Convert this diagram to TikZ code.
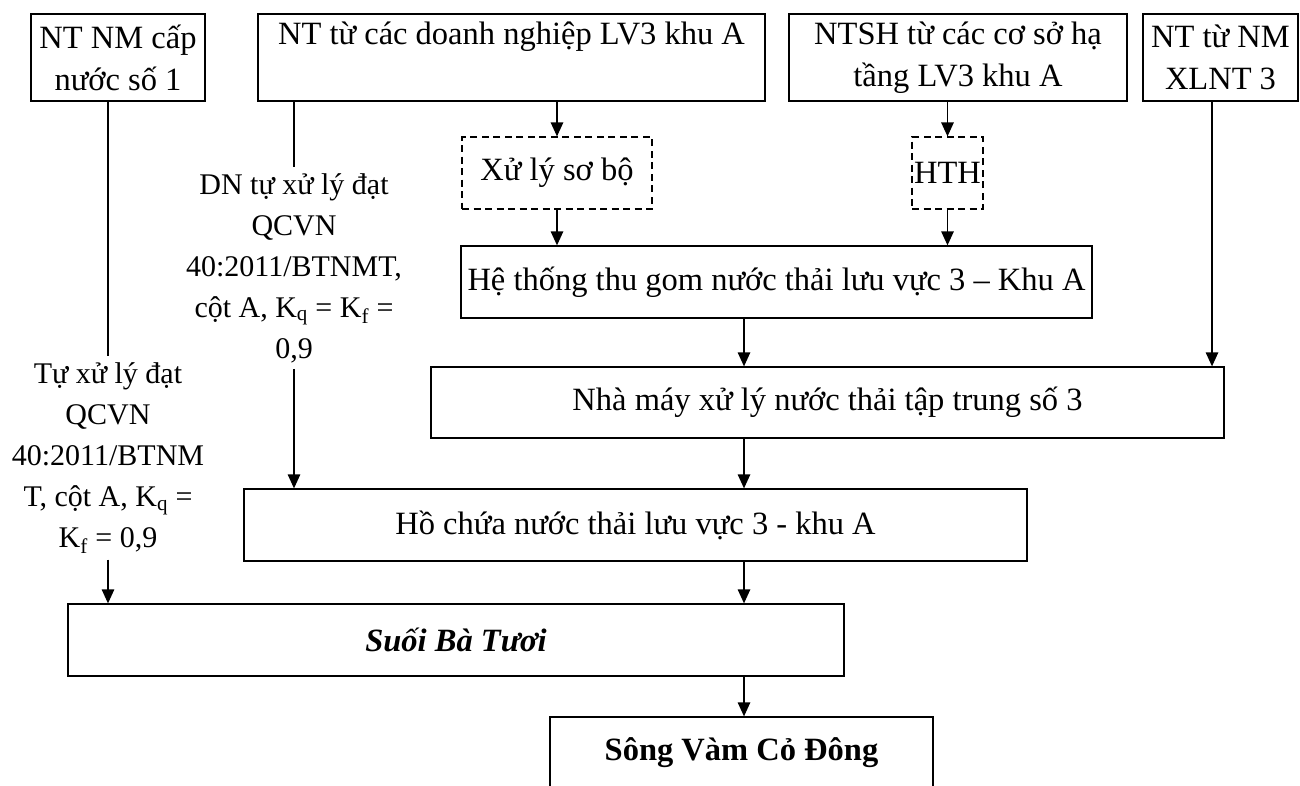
\documentclass[tikz,border=0pt]{standalone}
\usepackage{fontspec}
\setmainfont{Liberation Serif}
\usetikzlibrary{arrows.meta}
\begin{document}
\begin{tikzpicture}[x=1pt,y=-1pt,
  box/.style={draw, line width=1.3pt, inner sep=0pt, align=center,
    font=\fontsize{32.5}{42}\selectfont},
  dbox/.style={box, line width=1.2pt, dash pattern=on 7pt off 4.5pt},
  lbl/.style={align=center, inner xsep=0pt, inner ysep=6pt,
    font=\fontsize{30}{41}\selectfont},
  arr/.style={line width=1.3pt, -{Triangle[length=14pt,width=12.5pt]}},
  ln/.style={line width=1.3pt}]
\useasboundingbox (0,0) rectangle (1300,785);

% sources
\node[box, minimum width=174pt, minimum height=87pt] (b1) at (118,57.5)
  {NT NM cấp\\nước số 1};
\node[box, minimum width=507pt, minimum height=87pt, text depth=49pt] (b2) at (511.5,57.5)
  {NT từ các doanh nghiệp LV3 khu A};
\node[box, minimum width=338pt, minimum height=87pt] (b3) at (958,57.5)
  {NTSH từ các cơ sở hạ\\tầng LV3 khu A};
\node[box, minimum width=155pt, minimum height=87pt] (b4) at (1220.5,57.5)
  {NT từ NM\\XLNT 3};

% pre-treatment
\node[dbox, minimum width=190pt, minimum height=72pt] (xsb) at (557,173) {Xử lý sơ bộ};
\node[dbox, minimum width=71pt, minimum height=72pt] (hth) at (947.5,173) {HTH};

% collection and treatment chain
\node[box, minimum width=631pt, minimum height=72pt] (ht) at (776.5,282)
  {Hệ thống thu gom nước thải lưu vực 3 – Khu A};
\node[box, minimum width=793pt, minimum height=71pt] (nm) at (827.5,402.5)
  {Nhà máy xử lý nước thải tập trung số 3};
\node[box, minimum width=783pt, minimum height=72pt] (ho) at (635.5,525)
  {Hồ chứa nước thải lưu vực 3 - khu A};
\node[box, minimum width=776pt, minimum height=72pt] (suoi) at (456,640)
  {\bfseries\itshape Suối Bà Tươi};
\node[box, minimum width=383pt, minimum height=72pt] (song) at (741.5,753)
  {\bfseries Sông Vàm Cỏ Đông};

% self-treatment notes
\node[lbl] (dn) at (294,268)
  {DN tự xử lý đạt\\QCVN\\40:2011/BTNMT,\\cột A, K\textsubscript{q} = K\textsubscript{f} =\\0,9};
\node[lbl] (tu) at (108,458)
  {Tự xử lý đạt\\QCVN\\40:2011/BTNM\\T, cột A, K\textsubscript{q} =\\K\textsubscript{f} = 0,9};

% columns for connectors
\coordinate (c1) at (744,0);
\coordinate (c2) at (1212,0);

% connectors
\draw[arr] (b2.south -| xsb.north) -- (xsb.north);
\draw[arr] (xsb.south) -- (ht.north -| xsb.south);
\draw[arr] (b3.south -| hth.north) -- (hth.north);
\draw[arr] (hth.south) -- (ht.north -| hth.south);
\draw[arr] (ht.south -| c1) -- (nm.north -| c1);
\draw[arr] (b4.south -| c2) -- (nm.north -| c2);
\draw[arr] (nm.south -| c1) -- (ho.north -| c1);
\draw[arr] (ho.south -| c1) -- (suoi.north -| c1);
\draw[arr] (suoi.south -| c1) -- (song.north -| c1);
\draw[ln] (b2.south -| dn.north) -- (dn.north);
\draw[arr] (dn.south) -- (ho.north -| dn.south);
\draw[ln] (b1.south -| tu.north) -- (tu.north);
\draw[arr] (tu.south) -- (suoi.north -| tu.south);
\end{tikzpicture}
\end{document}
